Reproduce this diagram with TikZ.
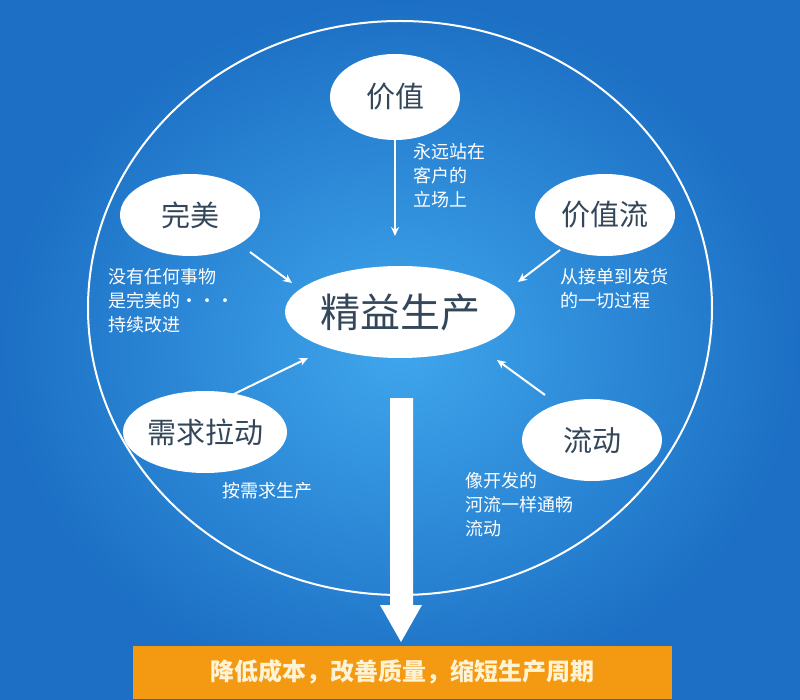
\documentclass[tikz,border=0pt]{standalone}
\usepackage{fontspec}
\setmainfont{Noto Sans CJK SC}
\usetikzlibrary{arrows.meta,shapes.geometric}
\definecolor{bgin}{HTML}{3FA6EC}
\definecolor{bgout}{HTML}{1C6FC4}
\definecolor{ink}{HTML}{34475A}
\definecolor{bar}{HTML}{F39A12}
\definecolor{bartext}{HTML}{FFF3D6}
\tikzset{
  bub/.style={ellipse,fill=white,draw=none,text=ink,inner sep=0pt,font=\fontsize{29}{29}\selectfont},
  note/.style={text=white,align=left,font=\fontsize{18}{24}\selectfont,anchor=north west,inner sep=0pt},
  thin/.style={white,line width=2pt,-{Stealth[length=9pt,width=8pt]}}
}
\begin{document}
\begin{tikzpicture}[x=1pt,y=-1pt]
\useasboundingbox (0,0) rectangle (800,700);
\shade[inner color=bgin,outer color=bgout] (0,0) rectangle (800,700);
\draw[white,line width=2pt] (400,308) ellipse [x radius=312,y radius=287];
\node[bub,minimum width=230,minimum height=92,font=\fontsize{40}{40}\selectfont] (c) at (400,312) {精益生产};
\node[bub,minimum width=130,minimum height=86] (v) at (395,97) {价值};
\node[bub,minimum width=140,minimum height=82] (p) at (190,215) {完美};
\node[bub,minimum width=140,minimum height=82] (vs) at (605,215) {价值流};
\node[bub,minimum width=150,minimum height=82] (d) at (205,432) {需求拉动};
\node[bub,minimum width=140,minimum height=82] (f) at (592,440) {流动};
\node[note] (nv) at (413,143) {永远站在\\客户的\\立场上};
\node[note] (np) at (108,268) {没有任何事物\\是完美的・・・\\持续改进};
\node[note] (nvs) at (560,268) {从接单到发货\\的一切过程};
\node[note] (nd) at (222,482) {按需求生产};
\node[note] (nf) at (465,472) {像开发的\\河流一样通畅\\流动};
\coordinate (a1) at (395,140); \coordinate (b1) at (395,236);
\draw[thin] (a1) -- (b1);
\coordinate (a2) at (250,252); \coordinate (b2) at (292,283);
\draw[thin] (a2) -- (b2);
\coordinate (a3) at (560,250); \coordinate (b3) at (518,282);
\draw[thin] (a3) -- (b3);
\coordinate (a4) at (232,395); \coordinate (b4) at (308,358);
\draw[thin] (a4) -- (b4);
\coordinate (a5) at (545,395); \coordinate (b5) at (497,360);
\draw[thin] (a5) -- (b5);
\node[fill=bar,minimum width=539,minimum height=53,inner sep=0pt,text=bartext,font=\bfseries\fontsize{24}{24}\selectfont] (r) at (402,672) {降低成本，改善质量，缩短生产周期};
\fill[white] (390,398) -- (413,398) -- (413,605) -- (422,605) -- (401,642) -- (380,605) -- (390,605) -- cycle;
\end{tikzpicture}
\end{document}
